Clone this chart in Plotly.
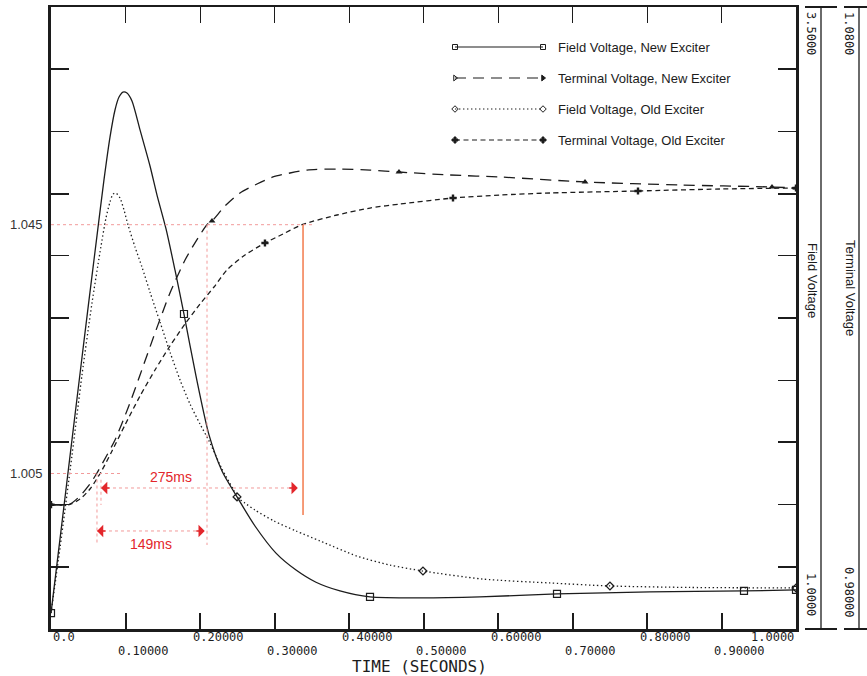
import plotly.graph_objects as go

# ---------------- data ----------------
# time axis (seconds)
x_tick_vals = [0.0, 0.1, 0.2, 0.3, 0.4, 0.5, 0.6, 0.7, 0.8, 0.9, 1.0]
x_tick_text = ["0.0", "0.10000", "0.20000", "0.30000", "0.40000", "0.50000",
               "0.60000", "0.70000", "0.80000", "0.90000", "1.0000"]

# Field voltage, new exciter (scale 1.0 - 3.5)
fv_new_t = [0.0, 0.0121, 0.0255, 0.0389, 0.0510, 0.0617, 0.0711, 0.0792, 0.0859, 0.0913,
            0.0966, 0.1020, 0.1087, 0.1195, 0.1329, 0.1423, 0.1544, 0.1664, 0.1785, 0.1946,
            0.2121, 0.2295, 0.2497, 0.2738, 0.3020, 0.3289, 0.3557, 0.3879, 0.4282, 0.4953,
            0.5758, 0.6792, 0.8040, 0.9302, 1.0]
fv_new_v = [1.064, 1.362, 1.695, 2.025, 2.322, 2.580, 2.805, 2.977, 3.086, 3.138,
            3.158, 3.154, 3.122, 3.006, 2.861, 2.744, 2.608, 2.443, 2.266, 2.017,
            1.780, 1.635, 1.531, 1.414, 1.305, 1.237, 1.188, 1.153, 1.129, 1.125,
            1.129, 1.141, 1.149, 1.153, 1.157]
fv_new_mark_t = [0.0, 0.1785, 0.4282, 0.6792, 0.9302, 1.0]
fv_new_mark_v = [1.064, 2.266, 1.129, 1.141, 1.153, 1.157]

# Field voltage, old exciter (scale 1.0 - 3.5)
fv_old_t = [0.0, 0.0121, 0.0282, 0.0416, 0.0550, 0.0658, 0.0738, 0.0792, 0.0832, 0.0872,
            0.0926, 0.0980, 0.1034, 0.1128, 0.1221, 0.1329, 0.1463, 0.1597, 0.1732, 0.1866,
            0.2000, 0.2121, 0.2295, 0.2443, 0.2497, 0.2604, 0.2738, 0.2993, 0.3289, 0.3611,
            0.4107, 0.4550, 0.4993, 0.5785, 0.6698, 0.7503, 0.8577, 1.0]
fv_old_v = [1.064, 1.326, 1.699, 2.021, 2.310, 2.515, 2.652, 2.716, 2.748, 2.752,
            2.732, 2.684, 2.624, 2.535, 2.455, 2.354, 2.234, 2.113, 2.001, 1.904,
            1.824, 1.756, 1.643, 1.563, 1.531, 1.506, 1.478, 1.434, 1.394, 1.354,
            1.293, 1.257, 1.233, 1.201, 1.185, 1.173, 1.167, 1.165]
fv_old_mark_t = [0.2497, 0.4993, 0.7503, 1.0]
fv_old_mark_v = [1.531, 1.233, 1.173, 1.165]

# Terminal voltage, new exciter (scale 0.98 - 1.08)
tv_new_t = [0.0, 0.0242, 0.0389, 0.0523, 0.0617, 0.0752, 0.0859, 0.1034, 0.1195, 0.1396,
            0.1597, 0.1799, 0.1973, 0.2094, 0.2161, 0.2336, 0.2537, 0.2765, 0.2980, 0.3208,
            0.3436, 0.3839, 0.4282, 0.4671, 0.5356, 0.6027, 0.7168, 0.8443, 0.9678, 1.0]
tv_new_v = [1.0000, 1.0000, 1.00138, 1.00331, 1.00508, 1.00797, 1.01039, 1.01553, 1.02084, 1.02759,
            1.03402, 1.03932, 1.04286, 1.04500, 1.04559, 1.04801, 1.05010, 1.05154, 1.05267, 1.05331,
            1.05379, 1.05395, 1.05379, 1.05347, 1.05299, 1.05267, 1.05187, 1.05138, 1.05106, 1.05090]
tv_new_mark_t = [0.0, 0.2161, 0.4671, 0.7168, 0.9678, 1.0]
tv_new_mark_v = [1.0000, 1.04559, 1.05347, 1.05187, 1.05106, 1.05090]

# Terminal voltage, old exciter (scale 0.98 - 1.08)
tv_old_t = [0.0, 0.0242, 0.0389, 0.0523, 0.0671, 0.0819, 0.0993, 0.1195, 0.1396, 0.1597,
            0.1799, 0.2000, 0.2188, 0.2362, 0.2604, 0.2872, 0.3114, 0.3369, 0.3839, 0.4282,
            0.4685, 0.5396, 0.6027, 0.6698, 0.7879, 0.8980, 1.0]
tv_old_v = [1.0000, 1.0000, 1.00090, 1.00251, 1.00524, 1.00862, 1.01280, 1.01746, 1.02164, 1.02550,
            1.02904, 1.03225, 1.03498, 1.03772, 1.04013, 1.04206, 1.04350, 1.04500, 1.04656, 1.04768,
            1.04833, 1.04929, 1.04977, 1.05010, 1.05042, 1.05074, 1.05090]
tv_old_mark_t = [0.0, 0.2872, 0.5396, 0.7879, 1.0]
tv_old_mark_v = [1.0000, 1.04206, 1.04929, 1.05042, 1.05090]

# reference levels and rise-time annotations (terminal voltage scale)
tv_high_level = 1.045
tv_low_level = 1.005
t_low_cross_new = 0.0617
t_low_cross_old = 0.0671
t_high_cross_new = 0.2094
t_high_cross_old = 0.3383
rise_labels = ["149ms", "275ms"]

series_names = ["Field Voltage, New Exciter", "Terminal Voltage, New Exciter",
                "Field Voltage, Old Exciter", "Terminal Voltage, Old Exciter"]

# ---------------- styling ----------------
INK = "#1c1c1c"
PINK = "#f29a9a"
RED = "#e3262b"
ORANGE = "#f2703f"
MONO = "DejaVu Sans Mono"
SANS = "Liberation Sans, Arial"

W, H = 867, 676
L, R, T, B = 51, 71, 7, 47
PW, PH = W - L - R, H - T - B


def px_x(p):
    return (p - L) / PW


def px_y(p):
    return (H - B - p) / PH


fig = go.Figure()

line_common = dict(shape="spline", smoothing=0.7, color=INK, width=1.3)

fig.add_trace(go.Scatter(x=fv_new_t, y=fv_new_v, yaxis="y2", mode="lines",
                         line=dict(**line_common, dash="solid"), hoverinfo="skip"))
fig.add_trace(go.Scatter(x=fv_old_t, y=fv_old_v, yaxis="y2", mode="lines",
                         line=dict(**line_common, dash="1.4px,2.6px"), hoverinfo="skip"))
fig.add_trace(go.Scatter(x=tv_new_t, y=tv_new_v, mode="lines",
                         line=dict(**line_common, dash="11px,7px"), hoverinfo="skip"))
fig.add_trace(go.Scatter(x=tv_old_t, y=tv_old_v, mode="lines",
                         line=dict(**line_common, dash="5px,3.5px"), hoverinfo="skip"))

fig.add_trace(go.Scatter(x=fv_new_mark_t, y=fv_new_mark_v, yaxis="y2", mode="markers",
                         marker=dict(symbol="square-open", size=7, color=INK, line=dict(width=1.2)),
                         hoverinfo="skip"))
fig.add_trace(go.Scatter(x=fv_old_mark_t, y=fv_old_mark_v, yaxis="y2", mode="markers",
                         marker=dict(symbol="diamond-open", size=6, color=INK, line=dict(width=1.3)),
                         hoverinfo="skip"))
fig.add_trace(go.Scatter(x=tv_new_mark_t, y=tv_new_mark_v, mode="markers",
                         marker=dict(symbol="triangle-up", size=6, color=INK), hoverinfo="skip"))
fig.add_trace(go.Scatter(x=tv_old_mark_t, y=tv_old_mark_v, mode="markers",
                         marker=dict(symbol="cross", size=6, color=INK), hoverinfo="skip"))

# ---- legend drawn inside the plot (pixel overlay axes) ----
leg_rows = [47, 78, 109, 140]
leg_x0, leg_x1, leg_tx = 455, 543, 556
leg_styles = [
    (dict(dash="solid"), "square-open", "square-open", 5),
    (dict(dash="11px,7px"), "triangle-right-open", "triangle-right", 5),
    (dict(dash="1.4px,2.6px"), "diamond-open", "diamond-open", 5),
    (dict(dash="5px,3.5px"), "cross", "cross", 5),
]
for row, (ls, s0, s1, ms), name in zip(leg_rows, leg_styles, series_names):
    fig.add_trace(go.Scatter(x=[leg_x0, leg_x1], y=[row, row], xaxis="x3", yaxis="y3",
                             mode="lines+markers",
                             line=dict(color=INK, width=1.2, **ls),
                             marker=dict(symbol=[s0, s1], size=ms, color=INK, line=dict(width=1, color=INK)),
                             hoverinfo="skip"))

# ---- layout ----
fig.update_layout(
    width=W, height=H,
    margin=dict(l=L, r=R, t=T, b=B, pad=0),
    paper_bgcolor="white", plot_bgcolor="white",
    showlegend=False,
    xaxis=dict(domain=[0, 1], range=[0, 1], showline=True, linewidth=2.5, linecolor=INK,
               ticks="inside", ticklen=16, tickwidth=2, tickcolor=INK,
               tickvals=x_tick_vals[1:-1], showticklabels=False, showgrid=False, zeroline=False),
    xaxis2=dict(overlaying="x", side="top", range=[0, 1], showline=True, linewidth=1.5, linecolor=INK,
                ticks="inside", ticklen=16, tickwidth=1.4, tickcolor=INK,
                tickvals=x_tick_vals[1:-1], showticklabels=False, showgrid=False, zeroline=False),
    xaxis3=dict(overlaying="x", range=[L, W - R], visible=False),
    yaxis=dict(range=[0.98, 1.08], showline=True, linewidth=2.5, linecolor=INK, mirror="ticks",
               ticks="inside", ticklen=18, tickwidth=2.4, tickcolor=INK,
               tickvals=[0.99, 1.01, 1.03, 1.05, 1.07], showticklabels=False,
               showgrid=False, zeroline=False),
    yaxis2=dict(overlaying="y", side="left", range=[1.0, 3.5], showline=True, linewidth=2.5,
                linecolor=INK, mirror="ticks", ticks="inside", ticklen=18, tickwidth=1.2,
                tickcolor=INK, tickvals=[1.5, 2.0, 2.5, 3.0], showticklabels=False,
                showgrid=False, zeroline=False),
    yaxis3=dict(overlaying="y", range=[H - B, T], visible=False),
)
# keep the top axis alive
fig.add_trace(go.Scatter(x=[None], y=[None], xaxis="x2", yaxis="y", hoverinfo="skip"))

ann = []
# bottom tick labels, two staggered rows, offset like the original plotter output
for i, (v, txt) in enumerate(zip(x_tick_vals, x_tick_text)):
    yrow = px_y(637) if i % 2 == 0 else px_y(651)
    if i == 0:
        a = dict(x=v, xanchor="left", xshift=0)
    elif i == len(x_tick_vals) - 1:
        a = dict(x=v, xanchor="right", xshift=0)
    else:
        a = dict(x=v, xanchor="center", xshift=18)
    a.update(xref="x", y=yrow, yref="paper", yanchor="middle", text=txt, showarrow=False,
             font=dict(family=MONO, size=12, color=INK))
    ann.append(a)

ann.append(dict(x=px_x(419), y=px_y(666.5), xref="paper", yref="paper", xanchor="center",
                yanchor="middle", text="TIME (SECONDS)", showarrow=False,
                font=dict(family=MONO, size=16, color=INK)))

# left-side level labels
for lvl in (tv_high_level, tv_low_level):
    ann.append(dict(x=px_x(45), y=lvl, xref="paper", yref="y", xanchor="right", yanchor="middle",
                    text=f"{lvl:.3f}", showarrow=False, font=dict(family=SANS, size=13, color="#333")))

# right-side scale captions
for xp, yp, txt, fam in [
    (811, 33, "3.5000", MONO), (849, 33, "1.0800", MONO),
    (811, 594, "1.0000", MONO), (849, 592, "0.98000", MONO),
]:
    ann.append(dict(x=px_x(xp), y=px_y(yp), xref="paper", yref="paper", text=txt, textangle=90,
                    xanchor="center", yanchor="middle", showarrow=False,
                    font=dict(family=fam, size=12, color=INK)))
ann.append(dict(x=px_x(813), y=px_y(280), xref="paper", yref="paper", text="Field Voltage",
                textangle=90, xanchor="center", yanchor="middle", showarrow=False,
                font=dict(family=SANS, size=13, color=INK)))
ann.append(dict(x=px_x(851), y=px_y(288), xref="paper", yref="paper", text="Terminal Voltage",
                textangle=90, xanchor="center", yanchor="middle", showarrow=False,
                font=dict(family=SANS, size=13, color=INK)))

# legend texts
for row, name in zip(leg_rows, series_names):
    ann.append(dict(x=leg_tx, y=row, xref="x3", yref="y3", xanchor="left", yanchor="middle",
                    text=name, showarrow=False, font=dict(family=SANS, size=13, color=INK)))

# rise-time annotations
y149 = 0.99576
y275 = 1.00267
ann.append(dict(x=0.1342, y=0.99367, xref="x", yref="y", text=rise_labels[0], showarrow=False,
                xanchor="center", yanchor="middle", font=dict(family=SANS, size=14, color=RED)))
ann.append(dict(x=0.161, y=1.00444, xref="x", yref="y", text=rise_labels[1], showarrow=False,
                xanchor="center", yanchor="middle", font=dict(family=SANS, size=14, color=RED)))
for (xa, xb, yy) in [(t_low_cross_new, t_high_cross_new - 0.003, y149),
                     (t_low_cross_old, t_high_cross_old - 0.007, y275)]:
    ann.append(dict(x=xa, y=yy, xref="x", yref="y", ax=10, ay=0, showarrow=True, arrowhead=1,
                    arrowsize=1.5, arrowwidth=1.4, arrowcolor=RED, text=""))
    ann.append(dict(x=xb, y=yy, xref="x", yref="y", ax=-10, ay=0, showarrow=True, arrowhead=1,
                    arrowsize=1.5, arrowwidth=1.4, arrowcolor=RED, text=""))
fig.update_layout(annotations=ann)

shapes = []
dot = dict(color=PINK, width=1, dash="dot")
shapes += [
    dict(type="line", xref="x", yref="y", x0=0, x1=0.352, y0=tv_high_level, y1=tv_high_level, line=dot),
    dict(type="line", xref="x", yref="y", x0=0, x1=0.0953, y0=tv_low_level, y1=tv_low_level, line=dot),
    dict(type="line", xref="x", yref="y", x0=t_high_cross_new, x1=t_high_cross_new,
         y0=tv_high_level, y1=0.9935, line=dot),
    dict(type="line", xref="x", yref="y", x0=t_low_cross_new, x1=t_low_cross_new,
         y0=tv_low_level, y1=0.9935, line=dot),
    dict(type="line", xref="x", yref="y", x0=t_low_cross_old, x1=t_low_cross_old,
         y0=1.0040, y1=0.99994, line=dot),
    dict(type="line", xref="x", yref="y", x0=t_high_cross_old, x1=t_high_cross_old,
         y0=tv_high_level, y1=0.99833, line=dict(color=ORANGE, width=1.4)),
    dict(type="line", xref="x", yref="y", x0=t_low_cross_new, x1=t_high_cross_new - 0.003,
         y0=y149, y1=y149, line=dot),
    dict(type="line", xref="x", yref="y", x0=t_low_cross_old, x1=t_high_cross_old - 0.007,
         y0=y275, y1=y275, line=dot),
]
# extra scale axes at the right
for xa, b0, b1 in [(821, 805, 837), (859, 844, 867)]:
    shapes.append(dict(type="line", xref="paper", yref="paper", x0=px_x(xa), x1=px_x(xa), y0=0, y1=1,
                       line=dict(color=INK, width=1.3)))
    for yy in (0, 1):
        shapes.append(dict(type="line", xref="paper", yref="paper", x0=px_x(b0), x1=px_x(b1),
                           y0=yy, y1=yy, line=dict(color=INK, width=2)))
fig.update_layout(shapes=shapes)

fig.write_html("out.html", config={"displayModeBar": False},
               post_script="document.body.style.margin='0px';")
